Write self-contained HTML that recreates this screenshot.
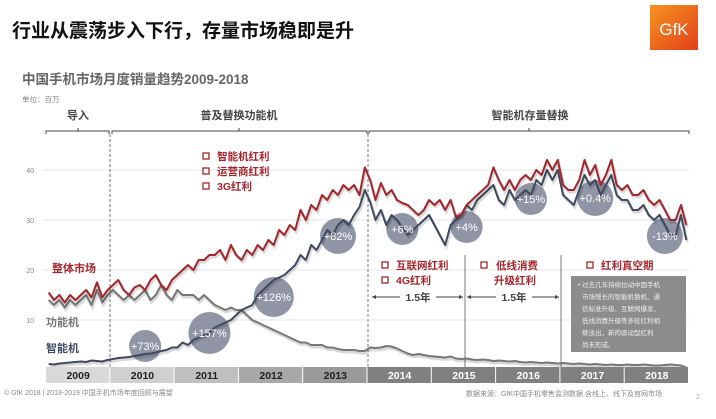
<!DOCTYPE html>
<html><head><meta charset="utf-8"><style>
body{margin:0;width:716px;height:414px;overflow:hidden;background:#fff;font-family:"Liberation Sans","Noto Sans CJK SC",sans-serif}
</style></head><body>
<svg id="c" width="716" height="414" xmlns="http://www.w3.org/2000/svg" font-family="Liberation Sans, Noto Sans CJK SC, sans-serif">
<text x="12" y="37" font-size="19" font-weight="bold" fill="#111">行业从震荡步入下行，存量市场稳即是升</text>
<g><defs><linearGradient id="og" x1="0" y1="0" x2="1" y2="1"><stop offset="0" stop-color="#f7931e"/><stop offset="1" stop-color="#e0401a"/></linearGradient></defs>
<rect x="650" y="5" width="48" height="45" fill="url(#og)"/><text x="674" y="35" font-size="17" fill="#fff" text-anchor="middle">GfK</text></g>
<text x="22" y="84" font-size="13.5" font-weight="bold" fill="#666">中国手机市场月度销量趋势2009-2018</text>
<text x="22" y="102" font-size="7.5" fill="#888">单位：百万</text>
<g font-size="11" font-weight="bold" fill="#444" text-anchor="middle">
<text x="78" y="119">导入</text><text x="239" y="119">普及替换功能机</text><text x="530" y="119">智能机存量替换</text></g>
<g stroke="#444" stroke-width="1" fill="none">
<path d="M46,134 v-3 h63 v3 M78,131 v-3"/><path d="M112,134 v-3 h255 v3 M239,131 v-3"/><path d="M369,134 v-3 h320 v3 M529,131 v-3"/></g>
<g id="grid"></g>
<g stroke="#555" stroke-width="0.8">
<line x1="110" y1="134" x2="110" y2="368" stroke-dasharray="3,2"/><line x1="368" y1="134" x2="368" y2="368" stroke-dasharray="3,2"/>
<line x1="465" y1="255" x2="465" y2="368"/><line x1="561" y1="255" x2="561" y2="368"/></g>
<g id="bubbles"></g>
<g id="lines"></g>
<g id="bl"></g>
<g id="years"></g>
<g font-size="11" font-weight="bold">
<text x="52" y="272" fill="#a4262c">整体市场</text><text x="46" y="326" fill="#777">功能机</text><text x="46" y="352" fill="#3f4a5f">智能机</text></g>
<g font-size="10.5" font-weight="bold" fill="#a4262c">
<g fill="none" stroke="#a4262c" stroke-width="1.3"><rect x="203" y="153" width="6" height="6"/><rect x="203" y="168" width="6" height="6"/><rect x="203" y="183" width="6" height="6"/>
<rect x="382" y="262" width="6" height="6"/><rect x="382" y="277" width="6" height="6"/><rect x="481" y="262" width="6" height="6"/><rect x="587" y="262" width="6" height="6"/></g>
<text x="217" y="160">智能机红利</text><text x="217" y="175">运营商红利</text><text x="217" y="190">3G红利</text>
<text x="396" y="269">互联网红利</text><text x="396" y="284">4G红利</text><text x="496" y="269">低线消费</text><text x="494" y="284">升级红利</text><text x="601" y="269">红利真空期</text></g>
<g font-size="10.5" font-weight="bold" fill="#444" stroke="#444">
<line x1="372" y1="297" x2="400" y2="297"/><line x1="436" y1="297" x2="463" y2="297"/><text x="418" y="301" text-anchor="middle" stroke="none">1.5年</text>
<line x1="467" y1="297" x2="496" y2="297"/><line x1="532" y1="297" x2="559" y2="297"/><text x="514" y="301" text-anchor="middle" stroke="none">1.5年</text>
<path d="M372,297 l4,-2 v4z M463,297 l-4,-2 v4z M467,297 l4,-2 v4z M559,297 l-4,-2 v4z" stroke="none"/></g>
<g><rect x="571" y="276" width="115" height="76" fill="#8c8c8c"/>
<g font-size="6.5" fill="#eee"><text x="578" y="287">• 过去几年持续拉动中国手机</text><text x="582" y="299">市场增长的智能机换机、通</text><text x="582" y="311">信标准升级、互联网爆发、</text><text x="582" y="323">低线消费升级等多轮红利相</text><text x="582" y="335">继淡出，新的驱动型红利</text><text x="582" y="347">尚未形成。</text></g></g>
<text x="4" y="395" font-size="7" fill="#888">© GfK 2018 | 2018-2019 中国手机市场年度回顾与展望</text>
<text x="466" y="396" font-size="7" fill="#888">数据来源：GfK中国手机零售监测数据  含线上、线下及官网市场</text>
<text x="696" y="399" font-size="7" fill="#aaa">2</text>
</svg>
<script>
const years=["2009","2010","2011","2012","2013","2014","2015","2016","2017","2018"];
const totalMarket=[15.5,14,15,13.5,15,14,15,16,14.5,17.5,14.5,16, 17,18,16,15,16.5,17,16,18,19,17,16,18, 19,20,21,20,22,22,23,23,24,22,25,23, 22,24,23,25,24,26,25,28,27,29,28,32, 30,33,32,35,34,36,35,37,36,37,35,40.5, 38,34,37.4,35,36,34,33.4,33,32,31,32,34, 33,34,32,34,30.6,31,33,34,35,36,37,40.5, 38,36,38,36,38,39,38,40,39,42,40,42, 37,36,36,38,42,39,41,37,39,42,37,36, 37,35,35,36,34,33,34,32,30,30,33,29];
const featurePhone=[14,13,14,12.5,14,13,14,15,13,16,13.5,15, 16,15,14,15,14,15,16,14,15,17,15,14, 16,15,15,15,14,15,14,13,12.5,12,12.5,12, 12,11,10,9.5,9,8.5,8,7.5,7,6.5,6,5.5, 5.5,5,5,5,4.5,4.5,4.2,4,4,4,3.8,3.8, 4.5,4.4,4.5,4.8,4.7,4.3,3.8,3.3,3.0,3.2,3.0,2.8, 2.7,2.6,2.5,2.7,2.3,2.2,2.3,2.1,2.0,2.1,2.0,1.8, 1.9,1.8,1.7,1.8,1.6,1.5,1.6,1.5,1.4,1.5,1.4,1.3, 1.4,1.3,1.2,1.3,1.2,1.1,1.2,1.1,1.0,1.1,1.0,1.0, 1.1,1.0,1.0,1.1,1.0,0.9,0.9,1.0,1.1,1.0,0.9,0.5];
const smartPhone=[1.2,1.1,1.3,1.4,1.5,1.6,1.7,1.6,1.9,1.8,1.7,2.0, 2.2,2.4,2.5,2.6,2.8,3.0,3.2,3.3,3.5,3.8,4.0,4.5, 4.5,5.5,5,6,6.5,7,7.5,8.5,9,9.5,10,11, 12,12.5,13,15,16,17,18,18.5,19,20,21,23, 22,25,24,26,28,27,29,30,29,31,32.6,36, 33.6,30,32,29,31,30,28.6,27,28,29,30,31, 29,27,25,29,30,31,33,32,34,35,36,37, 34,33,36,34,35,36,35,38,37,40,38,40, 35,34,33,36,39,37,38,35,37,39,35,34, 34,32,32,33,31,30,31,29,27,27,31,26];
const bubbleLabels=["+73%","+157%","+126%","+82%","+6%","+4%","+15%","+0.4%","-13%"];
const bubbleMonth=[18,30,42,54,66,78,90,102,115];
const bubbleValue=[4.8,7.4,14.6,26.8,28.2,28.6,34.2,34.4,26.8];
const bubbleRadius=[16,21,20,18,16,16,16,18,18];
const yTicks=[10,20,30,40];

const NS="http://www.w3.org/2000/svg";
const X0=46,X1=689;
const x=i=>X0+(i+0.5)*(X1-X0)/120;
const y=v=>370-v*5;
function mk(t,a,p){const e=document.createElementNS(NS,t);for(const k in a)e.setAttribute(k,a[k]);p.appendChild(e);return e;}
const grid=document.getElementById('grid');
yTicks.forEach(t=>{
  const l=mk('line',{x1:44,x2:X1,y1:y(t),y2:y(t),stroke:'#ddd','stroke-width':0.8},grid);
  
  
  const tx=mk('text',{x:34,y:y(t)+3,'font-size':7,fill:'#888','text-anchor':'end'},grid);tx.textContent=t;
  
  
});
const bb=document.getElementById('bubbles'),bl=document.getElementById('bl');
bubbleLabels.forEach((s,k)=>{
  const c=mk('circle',{cx:x(bubbleMonth[k]),cy:y(bubbleValue[k]),r:bubbleRadius[k],fill:'#7d8296','fill-opacity':0.85},bb);
  
  
  const t=mk('text',{x:x(bubbleMonth[k]),y:y(bubbleValue[k])+4,'font-size':11,fill:'#fff','text-anchor':'middle'},bl);t.textContent=s;
  
  
});
const lines=document.getElementById('lines');
[[featurePhone,'#777','feature-phone-line'],[smartPhone,'#3f4a5f','smartphone-line'],[totalMarket,'#a4262c','total-market-line']].forEach(([d,c,n])=>{
  const pts=d.map((v,i)=>x(i).toFixed(1)+','+y(v).toFixed(1)).join(' ');
  mk('polyline',{points:pts,fill:'none',stroke:'#000','stroke-opacity':0.15,'stroke-width':3,transform:'translate(1,2)'},lines);
  const p=mk('polyline',{points:pts,fill:'none',stroke:c,'stroke-width':2,'stroke-linejoin':'round'},lines);
  
  
});
const yg=document.getElementById('years');
const fills=['#d9d9d9','#d0d0d0','#bfbfbf','#a8a8a8','#9a9a9a','#808080','#808080','#808080','#808080','#808080'];
years.forEach((s,k)=>{
  const xa=x(k*12)-2.68,w=(X1-X0)/10;
  const r=mk('rect',{x:xa,y:367,width:w-1,height:16,fill:fills[k]},yg);
  
  
  const t=mk('text',{x:xa+w/2,y:379,'font-size':10.5,'font-weight':'bold',fill:k<5?'#222':'#fff','text-anchor':'middle'},yg);t.textContent=s;
  
  
});
</script>
</body></html>
